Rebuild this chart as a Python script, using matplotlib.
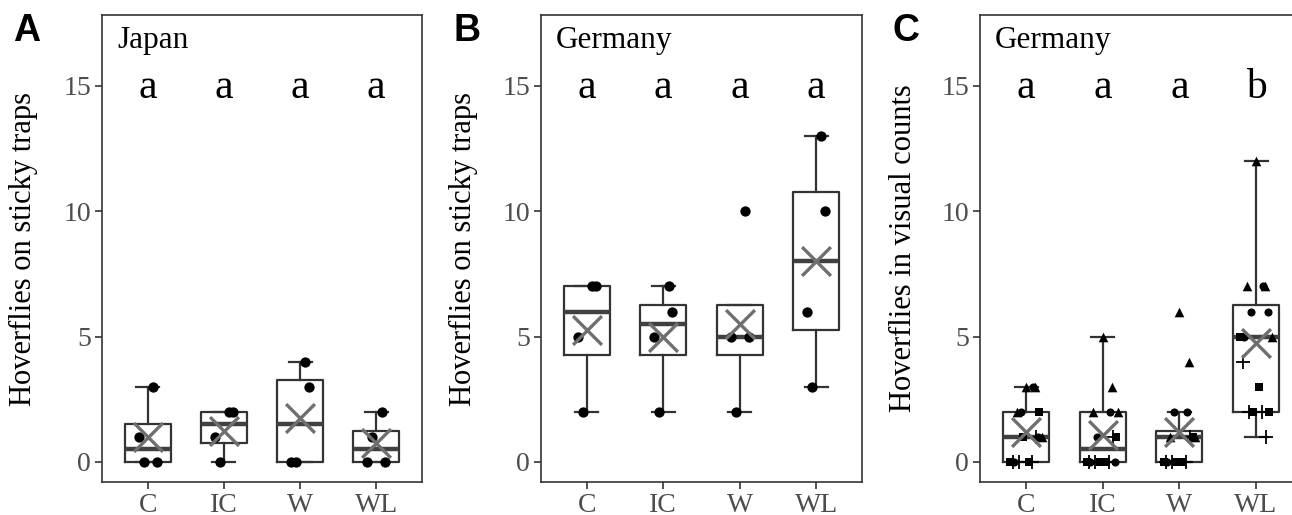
import numpy as np
import matplotlib
matplotlib.use("Agg")
import matplotlib.pyplot as plt

# ---------------- data ----------------
categories = ["C", "IC", "W", "WL"]
yticks = [0, 5, 10, 15]

japan_sticky = [[3, 0, 0, 1], [2, 0, 2, 1], [4, 0, 3, 0], [2, 1, 0, 0]]
germany_sticky = [[7, 2, 7, 5], [7, 2, 6, 5], [10, 2, 5, 5], [13, 3, 10, 6]]

# panel C: values split by marker shape
visual_circle = [[3, 2, 1, 0], [2, 1, 0, 0], [2, 2, 1, 0], [7, 6, 6, 5]]
visual_triangle = [[3, 3, 2, 1], [5, 3, 2, 2], [6, 4, 1, 1], [12, 7, 7, 5]]
visual_square = [[0, 0, 1, 2], [0, 0, 0, 1], [0, 0, 0, 1], [5, 3, 2, 2]]
visual_plus = [[0, 0, 0, 1], [0, 0, 0, 1], [0, 0, 0, 1], [4, 2, 2, 1]]

letters_A = ["a", "a", "a", "a"]
letters_B = ["a", "a", "a", "a"]
letters_C = ["a", "a", "a", "b"]

panel_titles = ["Japan", "Germany", "Germany"]
ylabels = ["Hoverflies on sticky traps", "Hoverflies on sticky traps",
           "Hoverflies in visual counts"]
panel_tags = ["A", "B", "C"]

# ---------------- style ----------------
SERIF = "Liberation Serif"
SANS = "Liberation Sans"
EDGE = "#333333"
TICKLAB = "#4D4D4D"
MEANC = "#6F6F6F"
JIT = [0.07, -0.05, 0.12, -0.12, 0.0, 0.09, -0.09, 0.15, -0.15, 0.03,
       -0.03, 0.13, -0.13, 0.06, -0.07, 0.10]

W, H = 1292, 515
fig = plt.figure(figsize=(W / 100, H / 100), dpi=100)


def px_axes(l, r, t, b):
    return fig.add_axes([l / W, 1 - b / H, (r - l) / W, (b - t) / H])


axes_px = [(102, 422), (541, 862), (980, 1302)]
tag_x = [13, 453, 892]
ylabel_x = [38, 478, 918]


def base_box(ax, data):
    pos = np.arange(1, len(categories) + 1)
    ax.boxplot(data, positions=pos, widths=0.6, showfliers=False, whis=1.5,
               capwidths=0.3, patch_artist=False,
               boxprops=dict(color=EDGE, linewidth=1.6),
               whiskerprops=dict(color=EDGE, linewidth=1.6),
               capprops=dict(color=EDGE, linewidth=1.6),
               medianprops=dict(color="#404040", linewidth=3.2),
               zorder=2)
    means = [np.mean(d) for d in data]
    ax.scatter(pos, means, marker="x", s=430, color=MEANC, linewidths=2.4,
               zorder=5)


def style_axis(ax, i, letters):
    ax.set_xlim(0.4, 4.6)
    ax.set_ylim(-0.8, 17.83)
    ax.set_xticks(np.arange(1, 5))
    ax.set_xticklabels(categories)
    ax.set_yticks(yticks)
    ax.set_yticklabels([str(v) for v in yticks])
    for lab in ax.get_xticklabels() + ax.get_yticklabels():
        lab.set_fontfamily(SERIF)
    ax.tick_params(length=5, width=1.2, color=EDGE, labelcolor=TICKLAB,
                   labelsize=20, pad=3)
    for s in ax.spines.values():
        s.set_color(EDGE)
        s.set_linewidth(1.2)
    ax.set_ylabel(ylabels[i], fontsize=22, family=SERIF, color="black")
    ax.yaxis.set_label_coords(
        (ylabel_x[i] - axes_px[i][0]) / (axes_px[i][1] - axes_px[i][0]), 0.5)
    ax.text(15 / (axes_px[i][1] - axes_px[i][0]), (482 - 48) / 467,
            panel_titles[i], transform=ax.transAxes, fontsize=22.5,
            family=SERIF, ha="left", va="baseline")
    for k, L in enumerate(letters):
        ax.text(k + 1, 14.5, L, fontsize=30, family=SERIF, ha="center",
                va="baseline")
    fig.text(tag_x[i] / W, 1 - 41 / H, panel_tags[i], fontsize=27,
             family=SANS, weight="bold", ha="left", va="baseline")


# Panel A and B
for i, data in enumerate([japan_sticky, germany_sticky]):
    l, r = axes_px[i]
    ax = px_axes(l, r, 15, 482)
    base_box(ax, data)
    for k, vals in enumerate(data):
        xs = [k + 1 + JIT[j % len(JIT)] for j in range(len(vals))]
        ax.scatter(xs, vals, s=55, color="black", zorder=4, linewidths=0)
    style_axis(ax, i, [letters_A, letters_B][i])

# Panel C
l, r = axes_px[2]
ax = px_axes(l, r, 15, 482)
all_c = [visual_circle[k] + visual_triangle[k] + visual_square[k] + visual_plus[k]
         for k in range(4)]
base_box(ax, all_c)
shape_sets = [(visual_circle, "o", 34), (visual_triangle, "^", 48),
              (visual_square, "s", 30), (visual_plus, "+", 90)]
for k in range(4):
    j = 0
    for arr, mk, sz in shape_sets:
        vals = arr[k]
        xs = [k + 1 + 1.35 * JIT[(j + n) % len(JIT)] for n in range(len(vals))]
        j += len(vals)
        if mk == "+":
            ax.scatter(xs, vals, s=sz, marker=mk, color="black", linewidths=1.3,
                       zorder=4)
        else:
            ax.scatter(xs, vals, s=sz, marker=mk, color="black", linewidths=0,
                       zorder=4)
style_axis(ax, 2, letters_C)

fig.savefig("out.png", dpi=100)
